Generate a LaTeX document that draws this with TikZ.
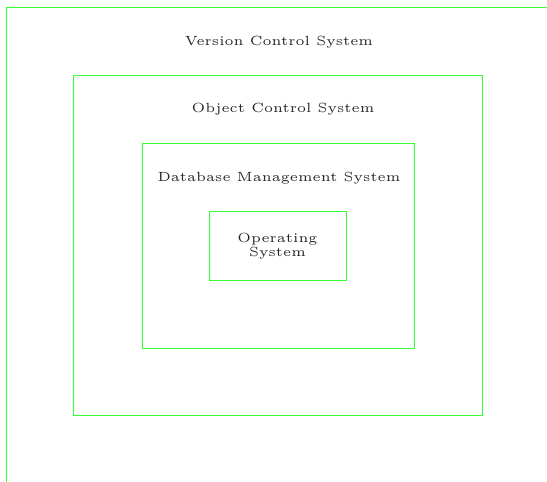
\documentclass[tikz,border=0pt]{standalone}
\begin{document}
\begin{tikzpicture}[x=1pt,y=-1pt,
  layer/.style={draw=green!80!white, line width=0.8pt, inner sep=0pt, outer sep=0pt},
  lbl/.style={font=\tiny, scale=2.66, inner sep=0pt, align=center, text=black!85}]
\useasboundingbox (0,0) rectangle (547,482);
\clip (0,0) rectangle (547,482);
\node[layer, minimum width=543pt, minimum height=476pt] (vcs) at (277.5,245) {};
\node[layer, minimum width=409pt, minimum height=340pt] (ocs) at (277.5,245) {};
\node[layer, minimum width=272pt, minimum height=205pt] (dbms) at (278,245.5) {};
\node[layer, minimum width=137pt, minimum height=69pt] (os) at (277.5,245.5) {};
\node[lbl] (vcsl) at (279,42) {Version Control System};
\node[lbl] (ocsl) at (283,109) {Object Control System};
\node[lbl] (dbmsl) at (279,178) {Database Management System};
\node[lbl] (osl) at ([yshift=-1pt]os.center) {Operating\\[-0.7pt]System};
\end{tikzpicture}
\end{document}
